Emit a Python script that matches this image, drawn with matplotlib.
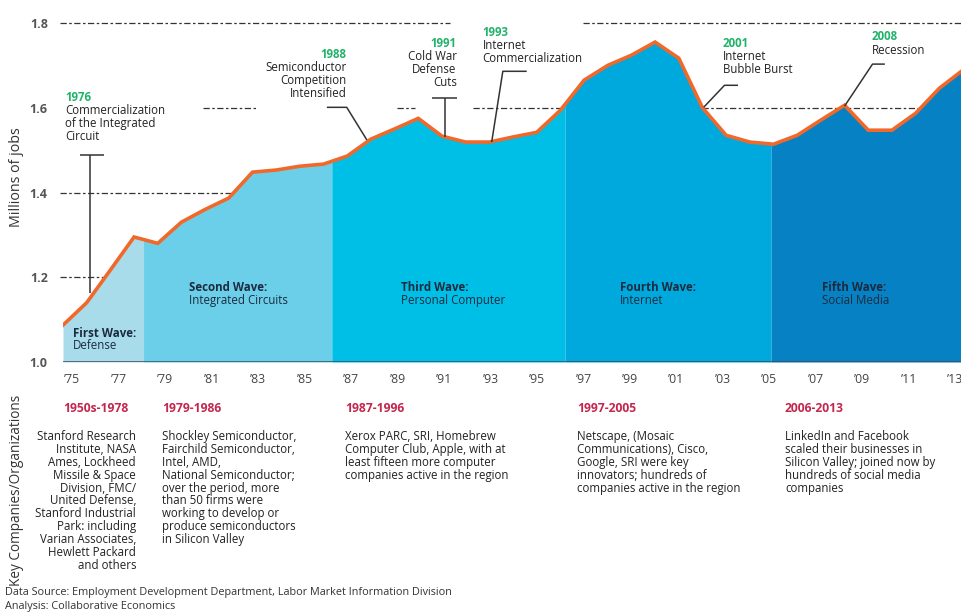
import numpy as np
import matplotlib
matplotlib.use("Agg")
import matplotlib.pyplot as plt

plt.rcParams['font.family'] = ['Open Sans', 'DejaVu Sans']

# Silicon Valley employment, millions of jobs
years = np.arange(1975, 2014)
jobs = [1.087, 1.14, 1.217, 1.295, 1.28, 1.33, 1.36, 1.387, 1.448, 1.453,
        1.462, 1.467, 1.486, 1.526, 1.55, 1.575, 1.533, 1.519, 1.519, 1.531,
        1.542, 1.594, 1.665, 1.70, 1.724, 1.755, 1.717, 1.60, 1.535, 1.519,
        1.514, 1.535, 1.571, 1.606, 1.547, 1.547, 1.587, 1.646, 1.689]

wave_edges = [1975, 1978.4, 1986.35, 1996.2, 2004.9, 2013]
wave_colors = ['#a9dcea', '#6ccfea', '#00bfe6', '#00a9dd', '#0581c4']
wave_titles = ['First Wave:', 'Second Wave:', 'Third Wave:', 'Fourth Wave:', 'Fifth Wave:']
wave_subs = ['Defense', 'Integrated Circuits', 'Personal Computer', 'Internet', 'Social Media']

y_ticks = [1.0, 1.2, 1.4, 1.6, 1.8]
x_tick_years = np.arange(1975, 2014, 2)
x_tick_labels = ["\u2019%02d" % (y % 100) for y in x_tick_years]

periods = ['1950s-1978', '1979-1986', '1987-1996', '1997-2005', '2006-2013']
companies = [
    "Stanford Research\nInstitute, NASA\nAmes, Lockheed\nMissile & Space\nDivision, FMC/\n"
    "United Defense,\nStanford Industrial\nPark: including\nVarian Associates,\n"
    "Hewlett Packard\nand others",
    "Shockley Semiconductor,\nFairchild Semiconductor,\nIntel, AMD,\nNational Semiconductor;\n"
    "over the period, more\nthan 50 firms were\nworking to develop or\n"
    "produce semiconductors\nin Silicon Valley",
    "Xerox PARC, SRI, Homebrew\nComputer Club, Apple, with at\nleast fifteen more computer\n"
    "companies active in the region",
    "Netscape, (Mosaic\nCommunications), Cisco,\nGoogle, SRI were key\n"
    "innovators; hundreds of\ncompanies active in the region",
    "LinkedIn and Facebook\nscaled their businesses in\nSilicon Valley; joined now by\n"
    "hundreds of social media\ncompanies",
]

GREEN = '#22b36b'
RED = '#c4274e'
NAVY = '#1c2b3f'
LEAD = '#333333'
FS = 8.3
LS = 0.99

fig = plt.figure(figsize=(9.62, 6.15), dpi=100)
ax = fig.add_axes([63 / 962, (615 - 362) / 615, 900 / 962, (362 - 23) / 615])
ax.set_xlim(1975, 2013)
ax.set_ylim(1.0, 1.8)
for s in ax.spines.values():
    s.set_visible(False)

# dashed gridline pieces
dash = dict(color='#333333', lw=0.9, linestyle=(0, (5, 2, 2, 2)), zorder=1, clip_on=False)
grid_pieces = {1.8: [(1974.87, 1991.33), (1996.94, 2013)],
               1.6: [(1980.9, 1983.25), (1989.1, 1989.85), (1992.3, 1996.2), (2002.0, 2012.5)],
               1.4: [(1974.87, 1983)],
               1.2: [(1974.87, 1977)]}
for yv, pieces in grid_pieces.items():
    for a, b in pieces:
        ax.plot([a, b], [yv, yv], **dash)

# wave areas
for i in range(5):
    lo, hi = wave_edges[i], wave_edges[i + 1]
    inner = years[(years > lo) & (years < hi)]
    xs = np.concatenate([[lo], inner, [hi]])
    ys = np.interp(xs, years, jobs)
    ax.fill_between(xs, 1.0, ys, color=wave_colors[i], lw=0, zorder=2)

ax.plot(years, jobs, color='#f0692a', lw=2.6, zorder=4, solid_joinstyle='miter')
ax.axhline(1.0, color='#3d4a55', lw=1.8, zorder=5)

# wave labels
wave_pos = [(1975.42, 1.068), (1980.32, 1.175), (1989.26, 1.175), (1998.5, 1.175), (2007.03, 1.175)]
for (wx, wy), t, sub in zip(wave_pos, wave_titles, wave_subs):
    ax.text(wx, wy, t, fontsize=FS, fontweight='bold', color=NAVY, va='center', zorder=6)
    ax.text(wx, wy - 0.029, sub, fontsize=FS, color=NAVY, va='center', zorder=6)

# event annotations
def event(x, y, year, body, ha='left'):
    ax.text(x, y, year, fontsize=FS, fontweight='bold', color=GREEN, ha=ha, va='center', zorder=6)
    ax.text(x, y - 0.016, body, fontsize=FS, color='#222222', ha=ha, va='top',
            linespacing=LS, zorder=6)

lk = dict(color=LEAD, lw=1.1, zorder=6, solid_capstyle='butt')
event(1975.08, 1.625, '1976', 'Commercialization\nof the Integrated\nCircuit')
ax.plot([1976.14, 1976.14], [1.488, 1.163], **lk)
ax.plot([1975.72, 1976.73], [1.488, 1.488], **lk)

event(1986.98, 1.726, '1988', 'Semiconductor\nCompetition\nIntensified', ha='right')
ax.plot([1986.14, 1986.98, 1987.83], [1.601, 1.601, 1.524], **lk)

event(1991.62, 1.752, '1991', 'Cold War\nDefense\nCuts', ha='right')
ax.plot([1990.57, 1991.62], [1.623, 1.623], **lk)
ax.plot([1991.12, 1991.12], [1.623, 1.531], **lk)

event(1992.72, 1.778, '1993', 'Internet\nCommercialization')
ax.plot([1994.58, 1993.57, 1993.1], [1.686, 1.686, 1.519], **lk)

event(2002.85, 1.752, '2001', 'Internet\nBubble Burst')
ax.plot([2003.5, 2002.93, 2002.05], [1.653, 1.653, 1.601], **lk)

event(2009.14, 1.767, '2008', 'Recession')
ax.plot([2009.7, 2009.18, 2008.0], [1.703, 1.703, 1.604], **lk)

# axes ticks
ax.set_yticks(y_ticks)
ax.set_yticklabels(['%.1f' % v for v in y_ticks], fontsize=9, fontweight='bold', color='#555555')
ax.set_xticks(1975.38 + (x_tick_years - 1975) * 0.9815)
ax.set_xticklabels(x_tick_labels, fontsize=8.8, color='#444444')
ax.tick_params(axis='y', length=0, pad=11)
ax.tick_params(axis='x', length=0, pad=8)
for lab in ax.get_xticklabels():
    lab.set_clip_on(False)

fig.text(17 / 962, 1 - 177 / 615, 'Millions of jobs', rotation=90, fontsize=10.3,
         color='#333333', ha='center', va='center')

# bottom section
fig.text(17 / 962, 1 - 490 / 615, 'Key Companies/Organizations', rotation=90, fontsize=9.8,
         color='#333333', ha='center', va='center')
head_x = [63, 162, 345, 577, 785]
for hx, p in zip(head_x, periods):
    fig.text(hx / 962, 1 - 408 / 615, p, fontsize=FS + 0.4, fontweight='bold', color=RED,
             va='center')
body_x = [136, 162, 345, 577, 785]
for i, (bx, txt) in enumerate(zip(body_x, companies)):
    fig.text(bx / 962, 1 - 430 / 615, txt, fontsize=FS, color='#222222', va='top',
             ha='right' if i == 0 else 'left', multialignment='right' if i == 0 else 'left',
             linespacing=LS)

fig.text(5 / 962, 1 - 593 / 615, 'Data Source: Employment Development Department, Labor Market Information Division',
         fontsize=7.85, color='#333333', va='center')
fig.text(5 / 962, 1 - 606 / 615, 'Analysis: Collaborative Economics',
         fontsize=7.85, color='#333333', va='center')

fig.savefig('out.png', dpi=100)
